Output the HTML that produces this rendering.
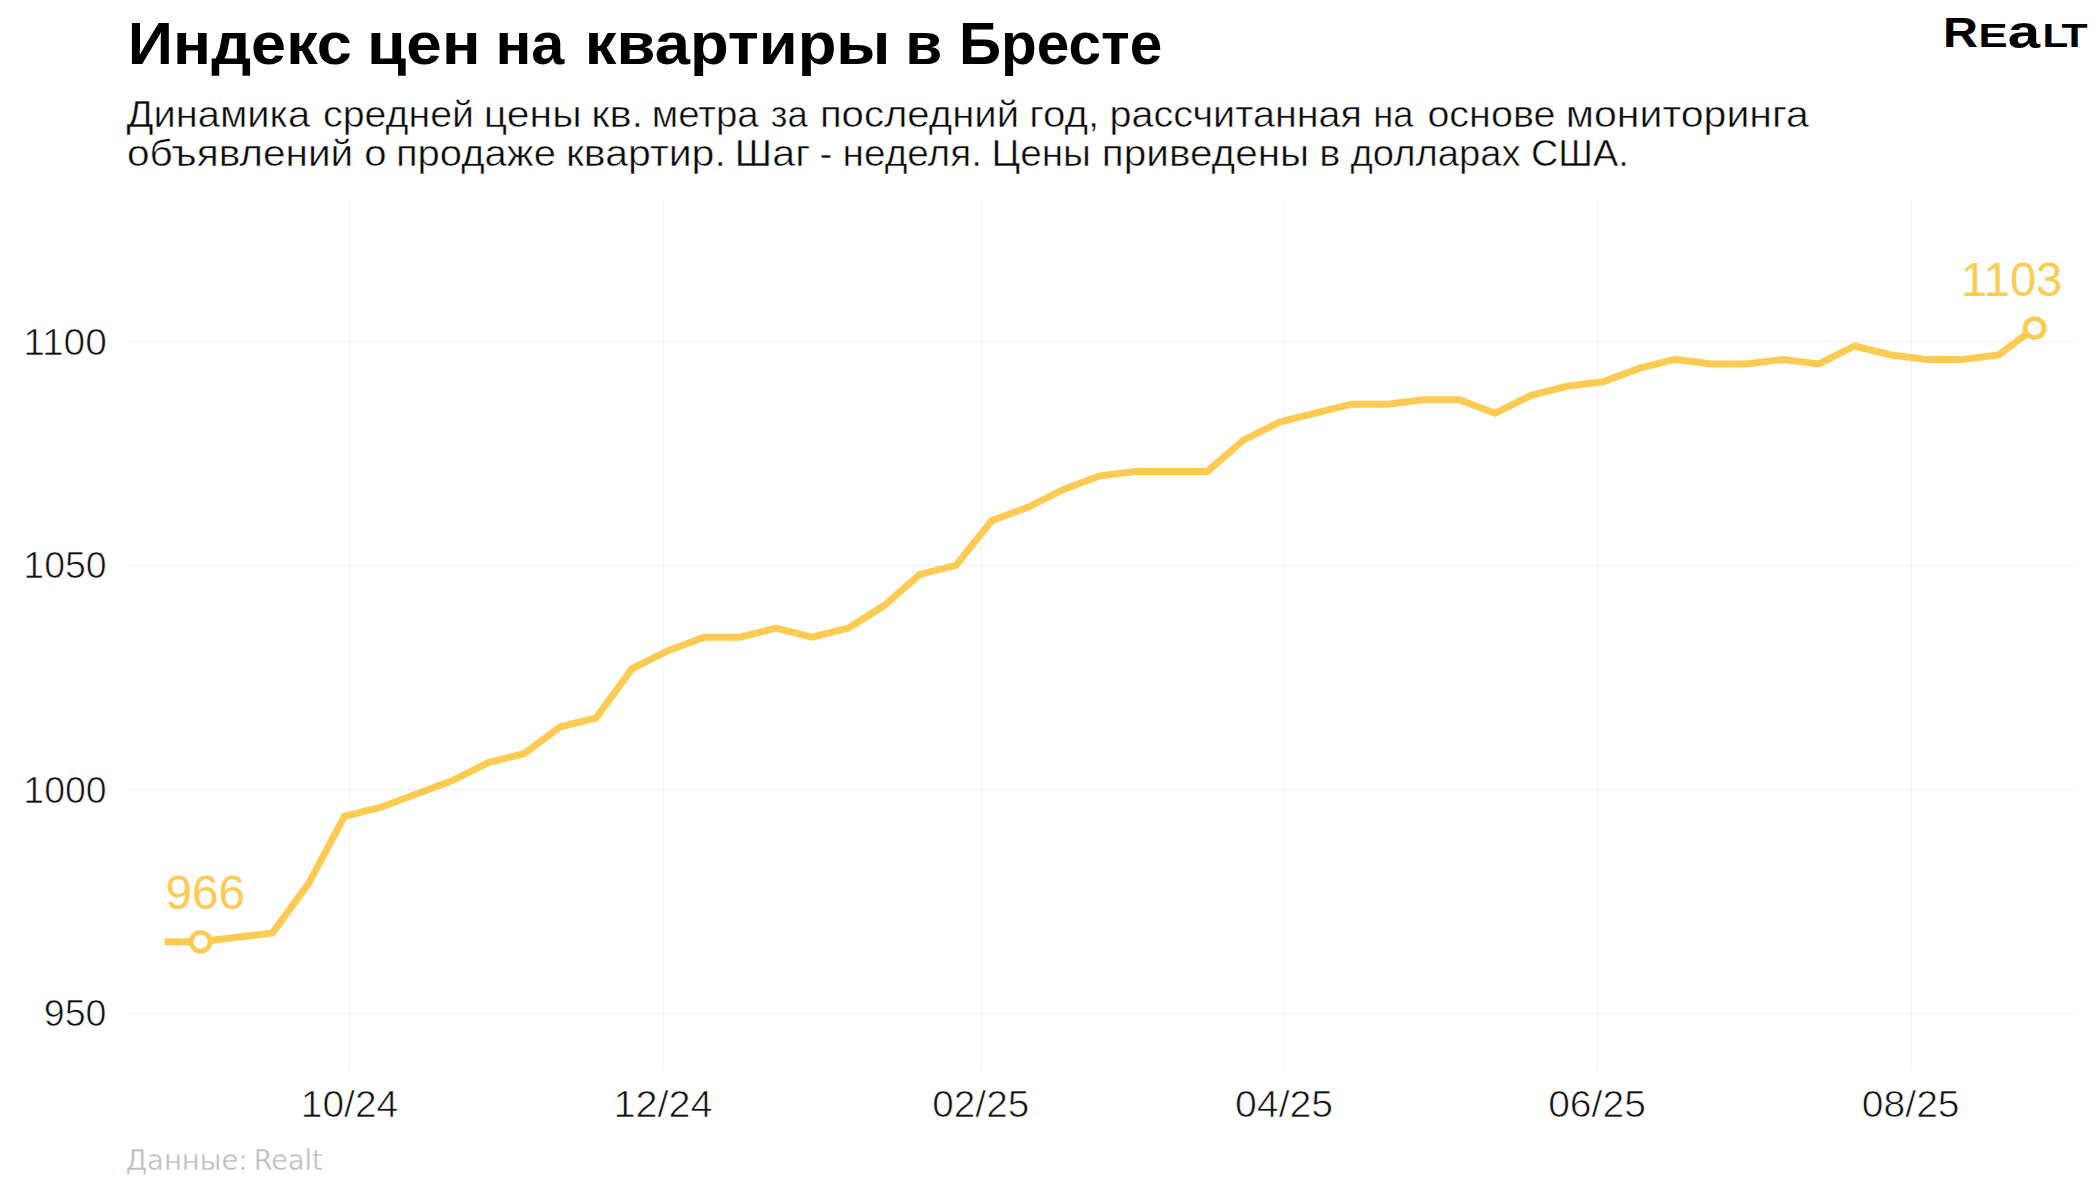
<!DOCTYPE html>
<html lang="ru"><head><meta charset="utf-8"><title>Индекс цен на квартиры в Бресте</title>
<style>
html,body{margin:0;padding:0;background:#fff;}
body{width:2100px;height:1200px;overflow:hidden;}
svg{display:block;}
text{font-family:"Liberation Sans",sans-serif;}
.t{font-weight:700;font-size:60px;fill:#000;}
.c text{font-family:"DejaVu Sans","Liberation Sans",sans-serif;}
.s{font-size:37.3px;fill:#0a0a0a;stroke:#fff;stroke-width:0.5px;}
.a{font-size:37.4px;fill:#111;stroke:#fff;stroke-width:0.7px;}
.c{font-size:28.8px;fill:#bdbdbd;stroke:#fff;stroke-width:0.4px;}
.l{font-size:48px;fill:#FECB52;}
</style></head><body>
<svg width="2100" height="1200" viewBox="0 0 2100 1200">
<rect width="2100" height="1200" fill="#fff"/>

<g stroke="#000" stroke-opacity="0.051" stroke-width="1" fill="none">
<line x1="349.5" y1="199" x2="349.5" y2="1070"/>
<line x1="663.2" y1="199" x2="663.2" y2="1070"/>
<line x1="981.5" y1="199" x2="981.5" y2="1070"/>
<line x1="1284.45" y1="199" x2="1284.45" y2="1070"/>
<line x1="1597.5" y1="199" x2="1597.5" y2="1070"/>
<line x1="1911.5" y1="199" x2="1911.5" y2="1070"/>
<line x1="127" y1="341.5" x2="2077" y2="341.5"/>
<line x1="127" y1="565.5" x2="2077" y2="565.5"/>
<line x1="127" y1="789.5" x2="2077" y2="789.5"/>
<line x1="127" y1="1013.5" x2="2077" y2="1013.5"/>
</g>
<g class="t">
<text x="127.8" y="64.4" textLength="224.11" lengthAdjust="spacingAndGlyphs">Индекс</text>
<text x="367.12" y="64.4" textLength="113.36" lengthAdjust="spacingAndGlyphs">цен</text>
<text x="495.44" y="64.4" textLength="68.88" lengthAdjust="spacingAndGlyphs">на</text>
<text x="584.89" y="64.4" textLength="305.56" lengthAdjust="spacingAndGlyphs">квартиры</text>
<text x="905.37" y="64.4" textLength="37.05" lengthAdjust="spacingAndGlyphs">в</text>
<text x="959.0" y="64.4" textLength="203.15" lengthAdjust="spacingAndGlyphs">Бресте</text>
</g>
<g class="s">
<text x="126.6" y="126.85" textLength="183.47" lengthAdjust="spacingAndGlyphs">Динамика</text>
<text x="322.99" y="126.85" textLength="150.98" lengthAdjust="spacingAndGlyphs">средней</text>
<text x="483.85" y="126.85" textLength="97.74" lengthAdjust="spacingAndGlyphs">цены</text>
<text x="591.17" y="126.85" textLength="52.04" lengthAdjust="spacingAndGlyphs">кв.</text>
<text x="651.72" y="126.85" textLength="106.97" lengthAdjust="spacingAndGlyphs">метра</text>
<text x="770.86" y="126.85" textLength="36.95" lengthAdjust="spacingAndGlyphs">за</text>
<text x="819.9" y="126.85" textLength="199.27" lengthAdjust="spacingAndGlyphs">последний</text>
<text x="1029.19" y="126.85" textLength="70.12" lengthAdjust="spacingAndGlyphs">год,</text>
<text x="1109.4" y="126.85" textLength="252.63" lengthAdjust="spacingAndGlyphs">рассчитанная</text>
<text x="1373.17" y="126.85" textLength="40.22" lengthAdjust="spacingAndGlyphs">на</text>
<text x="1427.4" y="126.85" textLength="128.0" lengthAdjust="spacingAndGlyphs">основе</text>
<text x="1565.84" y="126.85" textLength="243.09" lengthAdjust="spacingAndGlyphs">мониторинга</text>
</g>
<g class="s">
<text x="126.95" y="166.45" textLength="226.3" lengthAdjust="spacingAndGlyphs">объявлений</text>
<text x="364.27" y="166.45" textLength="22.31" lengthAdjust="spacingAndGlyphs">о</text>
<text x="395.91" y="166.45" textLength="160.01" lengthAdjust="spacingAndGlyphs">продаже</text>
<text x="565.92" y="166.45" textLength="159.89" lengthAdjust="spacingAndGlyphs">квартир.</text>
<text x="734.6" y="166.45" textLength="75.63" lengthAdjust="spacingAndGlyphs">Шаг</text>
<text x="819.63" y="166.45" textLength="12.45" lengthAdjust="spacingAndGlyphs">-</text>
<text x="842.6" y="166.45" textLength="139.36" lengthAdjust="spacingAndGlyphs">неделя.</text>
<text x="991.5" y="166.45" textLength="99.42" lengthAdjust="spacingAndGlyphs">Цены</text>
<text x="1101.88" y="166.45" textLength="207.29" lengthAdjust="spacingAndGlyphs">приведены</text>
<text x="1319.23" y="166.45" textLength="21.12" lengthAdjust="spacingAndGlyphs">в</text>
<text x="1350.52" y="166.45" textLength="170.2" lengthAdjust="spacingAndGlyphs">долларах</text>
<text x="1531.07" y="166.45" textLength="97.7" lengthAdjust="spacingAndGlyphs">США.</text>
</g>
<g class="a">
<text x="23.17" y="355.0" textLength="83.82" lengthAdjust="spacingAndGlyphs">1100</text>
<text x="23.29" y="578.2" textLength="83.42" lengthAdjust="spacingAndGlyphs">1050</text>
<text x="23.29" y="802.5" textLength="83.42" lengthAdjust="spacingAndGlyphs">1000</text>
<text x="43.69" y="1026.2" textLength="62.84" lengthAdjust="spacingAndGlyphs">950</text>
</g>
<g class="a">
<text x="300.88" y="1117.4" textLength="97.3" lengthAdjust="spacingAndGlyphs">10/24</text>
<text x="613.42" y="1117.4" textLength="99.18" lengthAdjust="spacingAndGlyphs">12/24</text>
<text x="932.27" y="1117.4" textLength="96.97" lengthAdjust="spacingAndGlyphs">02/25</text>
<text x="1235.05" y="1117.4" textLength="98.11" lengthAdjust="spacingAndGlyphs">04/25</text>
<text x="1548.16" y="1117.4" textLength="97.7" lengthAdjust="spacingAndGlyphs">06/25</text>
<text x="1861.86" y="1117.4" textLength="97.7" lengthAdjust="spacingAndGlyphs">08/25</text>
</g>
<g class="c">
<text x="125.63" y="1170" textLength="122.0" lengthAdjust="spacingAndGlyphs">Данные:</text>
<text x="253.78" y="1170" textLength="68.95" lengthAdjust="spacingAndGlyphs">Realt</text>
</g>
<polyline points="164.65,941.82 200.61,941.82 236.57,937.34 272.53,932.86 308.49,883.58 344.45,816.38 380.41,807.42 416.37,793.98 452.33,780.54 488.29,762.62 524.25,753.66 560.21,726.78 596.17,717.82 632.13,668.54 668.09,650.62 704.05,637.18 740.01,637.18 775.97,628.22 811.93,637.18 847.89,628.22 883.85,605.82 919.81,574.46 955.77,565.50 991.73,520.70 1027.69,507.26 1063.65,489.34 1099.61,475.90 1135.57,471.42 1171.53,471.42 1207.49,471.42 1243.45,440.06 1279.41,422.14 1315.37,413.18 1351.33,404.22 1387.29,404.22 1423.25,399.74 1459.21,399.74 1495.17,413.18 1531.13,395.26 1567.09,386.30 1603.05,381.82 1639.01,368.38 1674.97,359.42 1710.93,363.90 1746.89,363.90 1782.85,359.42 1818.81,363.90 1854.77,345.98 1890.73,354.94 1926.69,359.42 1962.65,359.42 1998.61,354.94 2034.57,328.06" fill="none" stroke="#FECB52" stroke-width="7" stroke-linejoin="miter" stroke-linecap="butt"/>
<circle cx="200.61" cy="941.82" r="9.5" fill="#fff" stroke="#FECB52" stroke-width="4.8"/>
<circle cx="2034.57" cy="328.06" r="9.5" fill="#fff" stroke="#FECB52" stroke-width="4.8"/>
<g class="l">
<text x="165.52" y="908.5" textLength="79.66" lengthAdjust="spacingAndGlyphs">966</text>
<text x="1961.12" y="296" textLength="101.05" lengthAdjust="spacingAndGlyphs">1103</text>
</g>
<text font-weight="700" fill="#000"><tspan x="1943.05" y="46.9" font-size="43.06" textLength="35.026" lengthAdjust="spacingAndGlyphs">R</tspan><tspan x="1978.57" y="46.9" font-size="33.48" textLength="29.043" lengthAdjust="spacingAndGlyphs">E</tspan><tspan x="2007.76" y="48.13" font-size="46.9" textLength="32.325" lengthAdjust="spacingAndGlyphs">a</tspan><tspan x="2042.46" y="46.9" font-size="33.48" textLength="25.742" lengthAdjust="spacingAndGlyphs">L</tspan><tspan x="2061.47" y="47.07" font-size="33.72" textLength="26.096" lengthAdjust="spacingAndGlyphs">T</tspan></text>
</svg></body></html>
